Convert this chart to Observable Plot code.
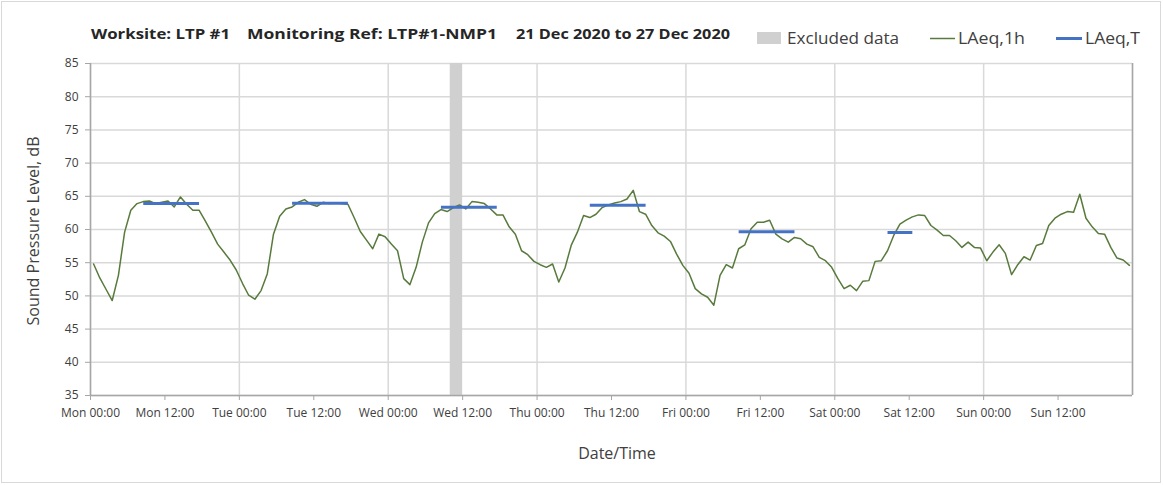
<!DOCTYPE html>
<html>
<head>
<meta charset="utf-8">
<script src="https://cdn.jsdelivr.net/npm/d3@7"></script>
<script src="https://cdn.jsdelivr.net/npm/@observablehq/plot@0.6"></script>
<style>
html, body { margin: 0; padding: 0; background: #fff; }
#wrap { position: relative; width: 1163px; height: 485px; overflow: hidden; font-family: "Open Sans", sans-serif; }
#frame { position: absolute; left: 1px; top: 1px; width: 1160px; height: 482px; border: 1px solid #d9d9d9; box-sizing: border-box; }
#chart, #overlay { position: absolute; left: 0; top: 0; }
</style>
</head>
<body>
<div id="wrap"><div id="frame"></div><div id="chart"></div><svg id="overlay" width="1163" height="485"></svg></div>
<script>
// ---- Data ----
const titleParts = ["Worksite: LTP #1", "Monitoring Ref: LTP#1-NMP1", "21 Dec 2020 to 27 Dec 2020"];
const legendLabels = ["Excluded data", "LAeq,1h", "LAeq,T"];
const yTitle = "Sound Pressure Level, dB";
const xTitle = "Date/Time";

// Hour offsets (from Mon 00:00) of x-axis ticks and their labels
const xTicks = [0, 12, 24, 36, 48, 60, 72, 84, 96, 108, 120, 132, 144, 156];
const xTickLabels = ["Mon 00:00", "Mon 12:00", "Tue 00:00", "Tue 12:00", "Wed 00:00", "Wed 12:00",
  "Thu 00:00", "Thu 12:00", "Fri 00:00", "Fri 12:00", "Sat 00:00", "Sat 12:00", "Sun 00:00", "Sun 12:00"];
const dayLines = [0, 24, 48, 72, 96, 120, 144, 168];
const yTicks = [35, 40, 45, 50, 55, 60, 65, 70, 75, 80, 85];

// LAeq,1h — one value per hour, Mon 00:00 .. Sun 23:00
const laeq1h = [
  // Mon
  54.8, 52.7, 51.0, 49.3, 53.1, 59.6, 62.9, 63.9, 64.2, 64.3, 63.9, 64.1, 64.3, 63.4, 64.9, 63.8,
  62.9, 62.9, 61.3, 59.6, 57.8, 56.6, 55.4, 53.9,
  // Tue
  51.9, 50.1, 49.5, 50.8, 53.3, 59.3, 62.0, 63.1, 63.4, 64.1, 64.5, 63.8, 63.5, 64.1, 63.9, 64.0,
  63.9, 63.8, 61.8, 59.7, 58.4, 57.1, 59.3, 58.9,
  // Wed
  57.8, 56.8, 52.6, 51.7, 54.3, 58.1, 61.0, 62.4, 63.0, 62.7, 63.3, 63.7, 63.1, 64.2, 64.1, 63.9,
  63.1, 62.2, 62.2, 60.4, 59.3, 56.8, 56.2, 55.2,
  // Thu
  54.7, 54.3, 54.8, 52.1, 54.2, 57.6, 59.6, 62.1, 61.8, 62.3, 63.3, 63.7, 64.0, 64.2, 64.6, 65.9,
  62.7, 62.3, 60.6, 59.5, 59.0, 58.2, 56.3, 54.6,
  // Fri
  53.4, 51.1, 50.3, 49.8, 48.6, 53.1, 54.7, 54.2, 57.1, 57.7, 60.1, 61.1, 61.1, 61.4, 59.3, 58.6,
  58.1, 58.8, 58.6, 57.8, 57.4, 55.8, 55.3, 54.3,
  // Sat
  52.6, 51.1, 51.6, 50.8, 52.2, 52.3, 55.2, 55.3, 56.8, 59.1, 60.8, 61.4, 61.9, 62.2, 62.1, 60.6,
  59.9, 59.1, 59.1, 58.3, 57.3, 58.1, 57.3, 57.2,
  // Sun
  55.3, 56.6, 57.7, 56.4, 53.2, 54.7, 55.9, 55.4, 57.6, 57.9, 60.6, 61.7, 62.3, 62.7, 62.6, 65.3,
  61.7, 60.4, 59.4, 59.3, 57.3, 55.7, 55.4, 54.6
];

// LAeq,T — daytime periods (start hour, end hour exclusive, from Mon 00:00)
const periodStart = [8, 32, 56, 80, 104, 128];
const periodEnd   = [18, 42, 66, 90, 114, 133];
const laeqT       = [63.9, 63.95, 63.35, 63.65, 59.65, 59.55];

// Excluded data (hours from Mon 00:00)
const excludedStart = [58];
const excludedEnd = [60];

// ---- Tables built from the arrays ----
const hourly = laeq1h.map((v, i) => ({h: i + 0.5, v}));
const periods = laeqT.map((v, i) => ({x1: periodStart[i] + 0.5, x2: periodEnd[i] - 0.5, v}));
const excluded = excludedStart.map((s, i) => ({x1: s, x2: excludedEnd[i]}));

const green = "#587a3c", blue = "#4472c4", band = "#d0d0d0", grid = "#d9d9d9", axisCol = "#a6a6a6";

const chart = Plot.plot({
  width: 1163, height: 485,
  marginLeft: 90, marginRight: 31, marginTop: 63, marginBottom: 90,
  style: {fontFamily: '"Open Sans", sans-serif', fontSize: "12px", color: "#595959", background: "transparent", overflow: "visible"},
  x: {domain: [0, 168], label: null},
  y: {domain: [35, 85], label: null},
  marks: [
    Plot.gridY(yTicks, {stroke: grid, strokeOpacity: 1, strokeWidth: 1.5}),
    Plot.gridX(dayLines, {stroke: grid, strokeOpacity: 1, strokeWidth: 1.5}),
    Plot.rect(excluded, {x1: "x1", x2: "x2", y1: () => 35, y2: () => 85, fill: band}),
    Plot.ruleX([0, 168], {stroke: axisCol, strokeWidth: 1.5}),
    Plot.ruleY([35], {stroke: axisCol, strokeWidth: 1.5}),
    Plot.axisY(yTicks, {tickSize: 5, tickPadding: 7, stroke: axisCol, fill: "#404040", fontSize: 12, label: null}),
    Plot.axisX(xTicks, {tickSize: 5, tickPadding: 8, stroke: axisCol, fill: "#404040", fontSize: 12, label: null,
      tickFormat: d => xTickLabels[xTicks.indexOf(d)]}),
    Plot.line(hourly, {x: "h", y: "v", stroke: green, strokeWidth: 1.5}),
    Plot.link(periods, {x1: "x1", x2: "x2", y1: "v", y2: "v", stroke: blue, strokeWidth: 3})
  ]
});
document.getElementById("chart").appendChild(chart);

// ---- Title, legend, axis titles ----
const ov = d3.select("#overlay");
const tf = '"Open Sans", sans-serif';
const tpos = [[91, 139], [247, 250], [516, 214]];
titleParts.forEach((t, i) => {
  ov.append("text").attr("x", tpos[i][0]).attr("y", 39).attr("font-family", tf).attr("font-weight", "bold")
    .attr("font-size", 14).attr("fill", "#262626").attr("textLength", tpos[i][1]).attr("lengthAdjust", "spacingAndGlyphs").text(t);
});
// legend
ov.append("rect").attr("x", 757).attr("y", 32).attr("width", 24).attr("height", 12).attr("fill", band);
ov.append("line").attr("x1", 930).attr("x2", 955).attr("y1", 38.5).attr("y2", 38.5).attr("stroke", green).attr("stroke-width", 1.5);
ov.append("line").attr("x1", 1056).attr("x2", 1082).attr("y1", 38.5).attr("y2", 38.5).attr("stroke", blue).attr("stroke-width", 3);
const lpos = [[787, 112], [958, 67], [1085, 55]];
legendLabels.forEach((t, i) => {
  ov.append("text").attr("x", lpos[i][0]).attr("y", 44).attr("font-family", tf).attr("font-size", 16)
    .attr("fill", "#404040").attr("textLength", lpos[i][1]).attr("lengthAdjust", "spacingAndGlyphs").text(t);
});
ov.append("text").attr("transform", "translate(39,231) rotate(-90)").attr("text-anchor", "middle")
  .attr("font-family", tf).attr("font-size", 16).attr("fill", "#404040")
  .attr("textLength", 189).attr("lengthAdjust", "spacingAndGlyphs").text(yTitle);
ov.append("text").attr("x", 617).attr("y", 459).attr("text-anchor", "middle")
  .attr("font-family", tf).attr("font-size", 16).attr("fill", "#404040").text(xTitle);
</script>
</body>
</html>
